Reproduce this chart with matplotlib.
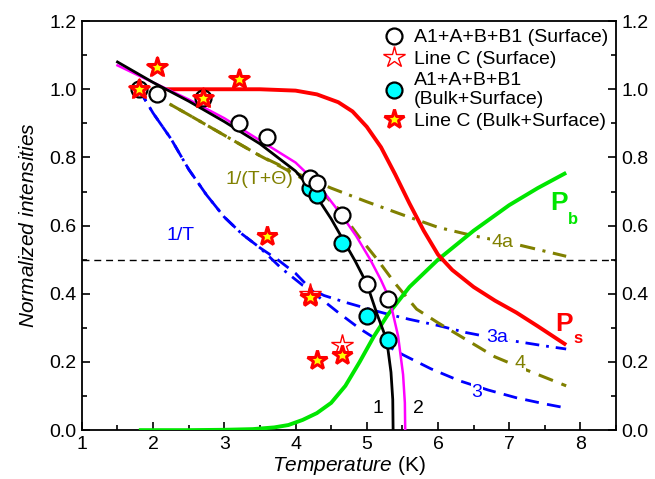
import matplotlib
matplotlib.use("Agg")
import matplotlib.pyplot as plt
from matplotlib.ticker import MultipleLocator, FormatStrFormatter
from matplotlib.lines import Line2D

plt.rcParams['font.family'] = ['Liberation Sans', 'DejaVu Sans']
plt.rcParams['mathtext.fontset'] = 'custom'
plt.rcParams['mathtext.rm'] = 'Liberation Sans'
plt.rcParams['mathtext.it'] = 'Liberation Sans:italic'
plt.rcParams['mathtext.bf'] = 'Liberation Sans:bold'

# ---- data: markers ----
surf_T = [1.8, 2.05, 2.7, 3.2, 3.6, 4.2, 4.3, 4.65, 5.0, 5.3]
surf_y = [1.0, 0.985, 0.975, 0.90, 0.86, 0.74, 0.725, 0.63, 0.43, 0.385]

lineC_surf_T = [1.8, 2.05, 2.7, 3.2, 4.2, 4.65]
lineC_surf_y = [1.0, 1.065, 0.975, 1.03, 0.40, 0.25]

bulk_T = [4.2, 4.3, 4.65, 5.0, 5.3]
bulk_y = [0.71, 0.69, 0.55, 0.335, 0.265]

lineC_bulk_T = [1.8, 2.05, 2.7, 3.2, 3.6, 4.2, 4.3, 4.65]
lineC_bulk_y = [1.0, 1.065, 0.975, 1.03, 0.57, 0.39, 0.205, 0.22]

# ---- data: curves ----
c1_T = [1.5, 2.0, 2.5, 3.0, 3.5, 4.0, 4.25, 4.5, 4.65, 4.84, 5.0, 5.15, 5.28, 5.34, 5.365, 5.37]
c1_y = [1.08, 1.02, 0.965, 0.905, 0.84, 0.76, 0.70, 0.62, 0.565, 0.495, 0.43, 0.337, 0.265, 0.17, 0.09, 0.0]

c2_T = [1.5, 2.0, 2.5, 3.0, 3.5, 4.0, 4.3, 4.65, 4.85, 5.05, 5.2, 5.32, 5.44, 5.51, 5.535, 5.54]
c2_y = [1.07, 1.02, 0.97, 0.915, 0.85, 0.785, 0.725, 0.63, 0.57, 0.50, 0.44, 0.385, 0.276, 0.163, 0.08, 0.0]

ps_T = [2.15, 3.0, 3.5, 4.0, 4.3, 4.6, 4.8, 5.0, 5.2, 5.4, 5.6, 5.8, 6.0, 6.2, 6.5, 6.8, 7.1, 7.4, 7.8]
ps_y = [1.0, 1.0, 1.0, 0.996, 0.985, 0.962, 0.935, 0.89, 0.83, 0.75, 0.665, 0.585, 0.515, 0.47, 0.42, 0.38, 0.345, 0.305, 0.25]

pb_T = [1.8, 2.5, 3.0, 3.4, 3.7, 3.9, 4.1, 4.3, 4.5, 4.7, 4.9, 5.1, 5.3, 5.6, 6.0, 6.5, 7.0, 7.4, 7.8]
pb_y = [0.0, 0.0, 0.001, 0.003, 0.008, 0.015, 0.03, 0.05, 0.08, 0.13, 0.20, 0.275, 0.34, 0.42, 0.50, 0.585, 0.66, 0.71, 0.755]

c3_T = [1.8, 1.9, 2.0, 2.25, 2.5, 2.75, 3.0, 3.25, 3.5, 3.75, 4.0, 4.3, 4.6, 4.9, 5.2, 5.5, 5.9, 6.3, 6.7, 7.1, 7.5, 7.8]
c3_y = [1.0, 0.965, 0.93, 0.855, 0.765, 0.69, 0.625, 0.575, 0.535, 0.50, 0.46, 0.395, 0.345, 0.298, 0.258, 0.222, 0.18, 0.145, 0.118, 0.095, 0.077, 0.065]

c3a_T = [1.8, 1.9, 2.0, 2.25, 2.5, 2.75, 3.0, 3.25, 3.5, 3.6, 3.8, 4.1, 4.4, 4.7, 5.0, 5.3, 5.6, 6.0, 6.4, 6.8, 7.2, 7.5, 7.8]
c3a_y = [1.0, 0.965, 0.93, 0.855, 0.765, 0.69, 0.625, 0.575, 0.535, 0.515, 0.475, 0.425, 0.395, 0.375, 0.357, 0.34, 0.325, 0.307, 0.286, 0.27, 0.257, 0.247, 0.238]

c4_T = [1.95, 2.5, 3.0, 3.5, 4.0, 4.3, 4.6, 4.9, 5.15, 5.4, 5.7, 6.0, 6.4, 6.8, 7.2, 7.8]
c4_y = [0.99, 0.925, 0.865, 0.805, 0.75, 0.71, 0.65, 0.565, 0.50, 0.43, 0.355, 0.315, 0.265, 0.215, 0.18, 0.13]

c4a_T = [1.95, 2.5, 3.0, 3.5, 4.0, 4.5, 5.0, 5.5, 6.0, 6.5, 7.0, 7.4, 7.8]
c4a_y = [0.99, 0.925, 0.865, 0.805, 0.755, 0.71, 0.67, 0.632, 0.595, 0.57, 0.55, 0.53, 0.51]

half_level = 0.5

legend_labels = ["A1+A+B+B1 (Surface)", "Line C (Surface)",
                 "A1+A+B+B1\n(Bulk+Surface)", "Line C (Bulk+Surface)"]

# ---- figure ----
fig = plt.figure(figsize=(6.55, 4.79), dpi=100)
ax = fig.add_axes([0.125, 0.102, 0.8155, 0.854])

RED = '#ff0000'
GREEN = '#00e600'
BLUE = '#0000ff'
OLIVE = '#808000'
MAG = '#ff00ff'

ax.axhline(half_level, color='black', lw=1.0, ls=(0, (5, 3.5)), zorder=1)

ax.plot(c3a_T, c3a_y, color=BLUE, lw=2.0, ls=(0, (5, 2.5, 1, 2.5)), zorder=2)
ax.plot(c3_T, c3_y, color=BLUE, lw=2.0, ls=(0, (5, 3)), zorder=2)
ax.plot(c4a_T, c4a_y, color=OLIVE, lw=2.2, ls=(0, (5, 2.5, 1, 2.5)), zorder=2)
ax.plot(c4_T, c4_y, color=OLIVE, lw=2.2, ls=(0, (5, 3)), zorder=2)
ax.plot(pb_T, pb_y, color=GREEN, lw=2.8, zorder=3, solid_capstyle='butt')
ax.plot(ps_T, ps_y, color=RED, lw=2.8, zorder=3, solid_capstyle='butt')
ax.plot(c2_T, c2_y, color=MAG, lw=1.8, zorder=4)
ax.plot(c1_T, c1_y, color='black', lw=2.0, zorder=4)

ax.plot(bulk_T, bulk_y, ls='none', marker='o', ms=11.5, mfc='#00ffff', mec='black', mew=1.6, zorder=5)
ax.plot(surf_T, surf_y, ls='none', marker='o', ms=11.5, mfc='white', mec='black', mew=1.6, zorder=6)
ax.plot(lineC_surf_T, lineC_surf_y, ls='none', marker='*', ms=16, mfc='white', mec=RED, mew=1.0, zorder=7)
ax.plot(lineC_bulk_T, lineC_bulk_y, ls='none', marker='*', ms=15, mfc='#ffff00', mec=RED, mew=2.2, zorder=8)

# labels on curves
lab_fs = 14
wbox = dict(facecolor='white', edgecolor='none', pad=0.5)
ax.text(3.5, 0.735, "1/(T+\u0398)", color=OLIVE, fontsize=lab_fs, ha='center', va='center')
ax.text(2.38, 0.57, "1/T", color=BLUE, fontsize=lab_fs, ha='center', va='center')
ax.text(6.9, 0.55, "4a", color=OLIVE, fontsize=lab_fs, ha='center', va='center', bbox=wbox, zorder=3)
ax.text(6.83, 0.272, "3a", color=BLUE, fontsize=lab_fs, ha='center', va='center', bbox=wbox, zorder=3)
ax.text(7.15, 0.195, "4", color=OLIVE, fontsize=lab_fs, ha='center', va='center', bbox=wbox, zorder=3)
ax.text(6.55, 0.11, "3", color=BLUE, fontsize=lab_fs, ha='center', va='center', bbox=wbox, zorder=3)
ax.text(5.15, 0.063, "1", color='black', fontsize=lab_fs, ha='center', va='center')
ax.text(5.73, 0.063, "2", color='black', fontsize=lab_fs, ha='center', va='center')
ax.text(7.7, 0.665, "P", color=GREEN, fontsize=19, fontweight='bold', ha='center', va='center')
ax.text(7.9, 0.617, "b", color=GREEN, fontsize=12, fontweight='bold', ha='center', va='center')
ax.text(7.77, 0.31, "P", color=RED, fontsize=19, fontweight='bold', ha='center', va='center')
ax.text(7.96, 0.268, "s", color=RED, fontsize=12, fontweight='bold', ha='center', va='center')

ax.set_xlim(1, 8.5)
ax.set_ylim(0, 1.2)
ax.xaxis.set_major_locator(MultipleLocator(1))
ax.xaxis.set_minor_locator(MultipleLocator(0.5))
ax.yaxis.set_major_locator(MultipleLocator(0.2))
ax.yaxis.set_minor_locator(MultipleLocator(0.1))
ax.yaxis.set_major_formatter(FormatStrFormatter('%.1f'))
ax.tick_params(which='both', direction='in', top=False, right=True, labelright=True,
               labelsize=14, width=1.2)
ax.tick_params(which='major', length=6, pad=4)
ax.tick_params(which='minor', length=3.5)
for s in ax.spines.values():
    s.set_linewidth(1.3)

ax.set_xlabel(r'$\mathit{Temperature}$ (K)', fontsize=15, labelpad=1)
ax.set_ylabel(r'$\mathit{Normalized\ intensities}$', fontsize=15, labelpad=8)

handles = [
    Line2D([], [], ls='none', marker='o', ms=11.5, mfc='white', mec='black', mew=1.6),
    Line2D([], [], ls='none', marker='*', ms=16, mfc='white', mec=RED, mew=1.0),
    Line2D([], [], ls='none', marker='o', ms=11.5, mfc='#00ffff', mec='black', mew=1.6),
    Line2D([], [], ls='none', marker='*', ms=15, mfc='#ffff00', mec=RED, mew=2.2),
]
ax.legend(handles, legend_labels, loc='upper right', frameon=False, fontsize=14,
          handletextpad=0.3, borderaxespad=0.2, borderpad=0.2, labelspacing=0.2,
          handlelength=1.5)

fig.savefig("out.png", dpi=100)
